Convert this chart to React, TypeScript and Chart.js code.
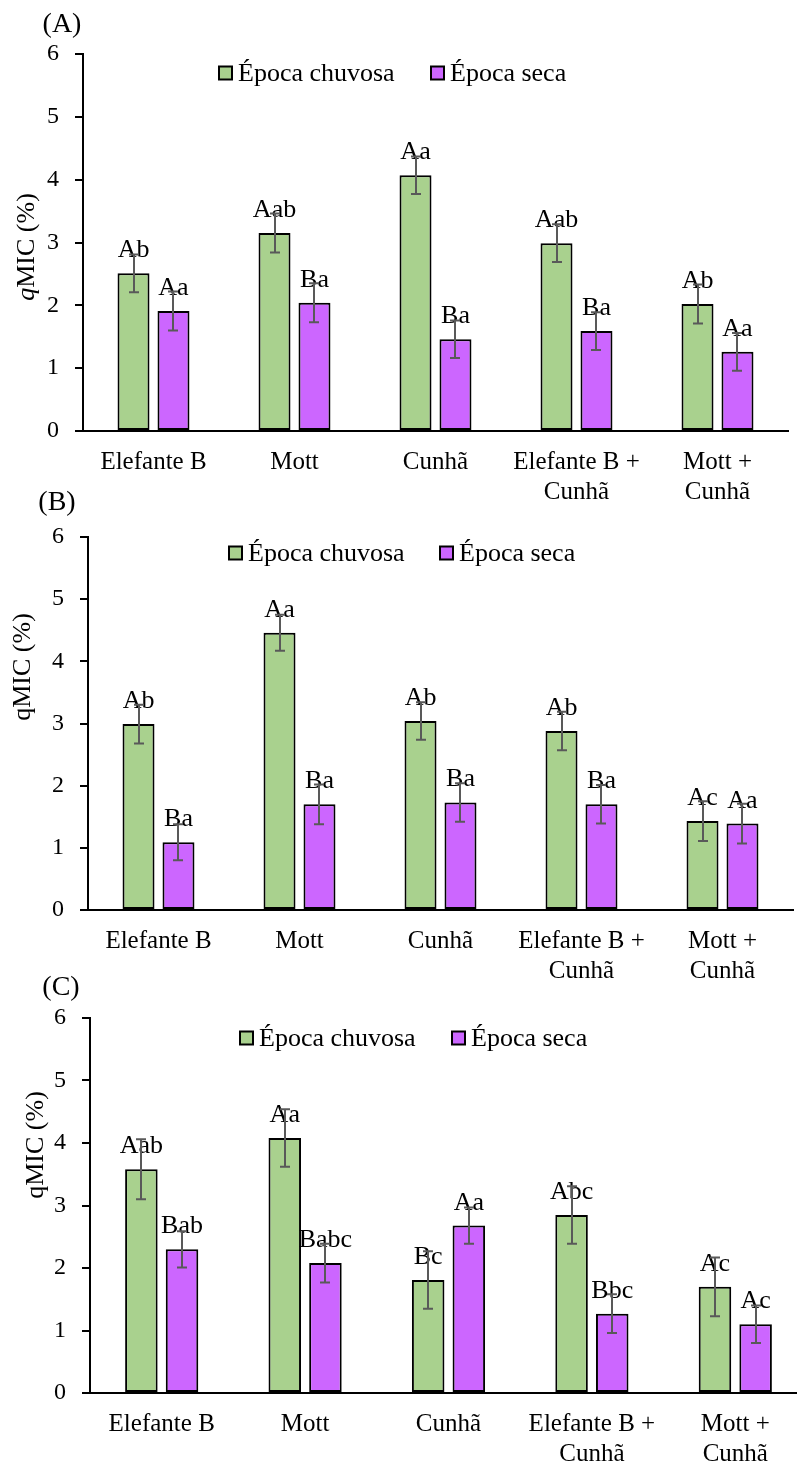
import React, { useEffect, useRef } from "react";
import { Chart, registerables } from "chart.js";

Chart.register(...registerables);

const FONT = '"Liberation Serif", "Times New Roman", serif';

// Treatments along the x axis (multi-line labels as arrays)
const categories: (string | string[])[] = [
  "Elefante B",
  "Mott",
  "Cunhã",
  ["Elefante B +", "Cunhã"],
  ["Mott +", "Cunhã"],
];
const seriesNames = ["Época chuvosa", "Época seca"];
const seriesColors = ["#A9D18E", "#CC66FF"];
const yTicks = [0, 1, 2, 3, 4, 5, 6];

// Panel A
const rainyA = [2.51, 3.15, 4.07, 2.99, 2.02];
const dryA = [1.91, 2.04, 1.46, 1.59, 1.26];
const rainyErrA = [0.3, 0.31, 0.3, 0.3, 0.31];
const dryErrA = [0.31, 0.31, 0.3, 0.3, 0.3];
const rainyLettersA = ["Ab", "Aab", "Aa", "Aab", "Ab"];
const dryLettersA = ["Aa", "Ba", "Ba", "Ba", "Aa"];

// Panel B
const rainyB = [2.99, 4.46, 3.04, 2.88, 1.43];
const dryB = [1.09, 1.7, 1.73, 1.7, 1.39];
const rainyErrB = [0.31, 0.29, 0.3, 0.31, 0.32];
const dryErrB = [0.29, 0.32, 0.31, 0.31, 0.32];
const rainyLettersB = ["Ab", "Aa", "Ab", "Ab", "Ac"];
const dryLettersB = ["Ba", "Ba", "Ba", "Ba", "Aa"];

// Panel C
const rainyC = [3.58, 4.08, 1.81, 2.85, 1.7];
const dryC = [2.3, 2.08, 2.68, 1.27, 1.1];
const rainyErrC = [0.48, 0.46, 0.46, 0.46, 0.47];
const dryErrC = [0.29, 0.31, 0.29, 0.31, 0.3];
const rainyLettersC = ["Aab", "Aa", "Bc", "Abc", "Ac"];
const dryLettersC = ["Bab", "Babc", "Aa", "Bbc", "Ac"];

type PanelLayout = {
  tag: string;
  italicQ: boolean;
  top: number;
  width: number;
  height: number;
  area: { left: number; right: number; top: number; bottom: number };
  tagPos: [number, number];
  titlePos: [number, number];
  legendX: [number, number];
  legendY: number;
};

type PanelSeries = {
  values: number[][];
  errors: number[][];
  letters: string[][];
};

const panels: { layout: PanelLayout; series: PanelSeries }[] = [
  {
    layout: {
      tag: "(A)",
      italicQ: true,
      top: 0,
      width: 797,
      height: 520,
      area: { left: 83, right: 788, top: 54, bottom: 431 },
      tagPos: [62, 25],
      titlePos: [27, 247],
      legendX: [219, 431],
      legendY: 73,
    },
    series: {
      values: [rainyA, dryA],
      errors: [rainyErrA, dryErrA],
      letters: [rainyLettersA, dryLettersA],
    },
  },
  {
    layout: {
      tag: "(B)",
      italicQ: false,
      top: 480,
      width: 797,
      height: 520,
      area: { left: 88, right: 793, top: 57, bottom: 430 },
      tagPos: [57, 23],
      titlePos: [23, 187],
      legendX: [229, 440],
      legendY: 73,
    },
    series: {
      values: [rainyB, dryB],
      errors: [rainyErrB, dryErrB],
      letters: [rainyLettersB, dryLettersB],
    },
  },
  {
    layout: {
      tag: "(C)",
      italicQ: false,
      top: 970,
      width: 820,
      height: 496,
      area: { left: 90, right: 807, top: 48, bottom: 423 },
      tagPos: [61, 18],
      titlePos: [36, 175],
      legendX: [240, 452],
      legendY: 68,
    },
    series: {
      values: [rainyC, dryC],
      errors: [rainyErrC, dryErrC],
      letters: [rainyLettersC, dryLettersC],
    },
  },
];

// Significance letters, error bars, panel tag, y-axis title and legend
const panelDecor = {
  id: "panelDecor",
  afterDatasetsDraw(chart: any, _args: any, opts: any) {
    const ctx = chart.ctx as CanvasRenderingContext2D;
    const yScale = chart.scales.y;
    const series: PanelSeries = opts.series;
    ctx.save();
    ctx.fillStyle = "#000";
    ctx.font = `26px ${FONT}`;
    ctx.textAlign = "center";
    ctx.textBaseline = "alphabetic";
    series.values.forEach((vals, di) => {
      const meta = chart.getDatasetMeta(di);
      meta.data.forEach((bar: any, i: number) => {
        ctx.fillText(series.letters[di][i], bar.x, yScale.getPixelForValue(vals[i]) - 16);
      });
    });
    ctx.strokeStyle = "#595959";
    ctx.lineWidth = 2;
    series.values.forEach((vals, di) => {
      const meta = chart.getDatasetMeta(di);
      meta.data.forEach((bar: any, i: number) => {
        const hi = yScale.getPixelForValue(vals[i] + series.errors[di][i]);
        const lo = yScale.getPixelForValue(vals[i] - series.errors[di][i]);
        const x = Math.round(bar.x);
        ctx.beginPath();
        ctx.moveTo(x, hi);
        ctx.lineTo(x, lo);
        ctx.moveTo(x - 5, hi);
        ctx.lineTo(x + 5, hi);
        ctx.moveTo(x - 5, lo);
        ctx.lineTo(x + 5, lo);
        ctx.stroke();
      });
    });
    ctx.restore();
  },
  afterDraw(chart: any, _args: any, opts: any) {
    const ctx = chart.ctx as CanvasRenderingContext2D;
    const layout: PanelLayout = opts.layout;
    ctx.save();
    ctx.fillStyle = "#000";

    // panel tag
    ctx.font = `28px ${FONT}`;
    ctx.textAlign = "center";
    ctx.textBaseline = "middle";
    ctx.fillText(layout.tag, layout.tagPos[0], layout.tagPos[1]);

    // y-axis title
    ctx.save();
    ctx.translate(layout.titlePos[0], layout.titlePos[1]);
    ctx.rotate(-Math.PI / 2);
    ctx.textAlign = "left";
    ctx.textBaseline = "middle";
    const qFont = `${layout.italicQ ? "italic " : ""}26px ${FONT}`;
    const restFont = `26px ${FONT}`;
    ctx.font = qFont;
    const qW = ctx.measureText("q").width;
    ctx.font = restFont;
    const restW = ctx.measureText("MIC (%)").width;
    const start = -(qW + restW) / 2;
    ctx.font = qFont;
    ctx.fillText("q", start, 0);
    ctx.font = restFont;
    ctx.fillText("MIC (%)", start + qW, 0);
    ctx.restore();

    // legend
    ctx.font = `26px ${FONT}`;
    ctx.textAlign = "left";
    ctx.textBaseline = "middle";
    seriesNames.forEach((name, i) => {
      const x = layout.legendX[i];
      const y = layout.legendY;
      ctx.fillStyle = seriesColors[i];
      ctx.fillRect(x, y - 6.5, 13, 13);
      ctx.strokeStyle = "#000";
      ctx.lineWidth = 2;
      ctx.strokeRect(x, y - 6.5, 13, 13);
      ctx.fillStyle = "#000";
      ctx.fillText(name, x + 19, y + 1);
    });
    ctx.restore();
  },
};

function Panel({ layout, series }: { layout: PanelLayout; series: PanelSeries }) {
  const ref = useRef<HTMLCanvasElement | null>(null);

  useEffect(() => {
    if (!ref.current) return;
    const chart = new Chart(ref.current, {
      type: "bar",
      data: {
        labels: categories,
        datasets: series.values.map((vals, i) => ({
          label: seriesNames[i],
          data: vals,
          backgroundColor: seriesColors[i],
          borderColor: "#000",
          borderWidth: 2,
          borderSkipped: false,
          barPercentage: 0.8,
          categoryPercentage: 0.567,
        })),
      },
      options: {
        responsive: false,
        animation: false,
        events: [],
        layout: {
          padding: {
            left: 0,
            top: layout.area.top,
            right: layout.width - layout.area.right,
            bottom: 0,
          },
        },
        plugins: {
          legend: { display: false },
          tooltip: { enabled: false },
          panelDecor: { layout, series },
        } as any,
        scales: {
          x: {
            grid: { display: false, drawTicks: false },
            border: { display: true, color: "#000", width: 2 },
            ticks: {
              color: "#000",
              padding: 16,
              maxRotation: 0,
              autoSkip: false,
              font: { family: FONT, size: 25, lineHeight: 1.2 },
            },
            afterFit: (scale: any) => {
              scale.height = layout.height - layout.area.bottom;
            },
          },
          y: {
            min: 0,
            max: 6,
            afterBuildTicks: (scale: any) => {
              scale.ticks = yTicks.map((v) => ({ value: v }));
            },
            grid: {
              display: true,
              drawOnChartArea: false,
              drawTicks: true,
              tickLength: 8,
              color: "#000",
              lineWidth: 2,
            },
            border: { display: true, color: "#000", width: 2 },
            ticks: {
              color: "#000",
              padding: 16,
              font: { family: FONT, size: 24 },
            },
            afterFit: (scale: any) => {
              scale.width = layout.area.left;
            },
          },
        },
      },
      plugins: [panelDecor],
    });
    return () => chart.destroy();
  }, [layout, series]);

  return (
    <canvas
      ref={ref}
      width={layout.width}
      height={layout.height}
      style={{
        position: "absolute",
        left: 0,
        top: layout.top,
        width: layout.width,
        height: layout.height,
      }}
    />
  );
}

export default function App() {
  return (
    <div
      style={{
        position: "fixed",
        left: 0,
        top: 0,
        width: 797,
        height: 1466,
        overflow: "hidden",
        background: "#fff",
      }}
    >
      {panels.map((p) => (
        <Panel key={p.layout.tag} layout={p.layout} series={p.series} />
      ))}
    </div>
  );
}
